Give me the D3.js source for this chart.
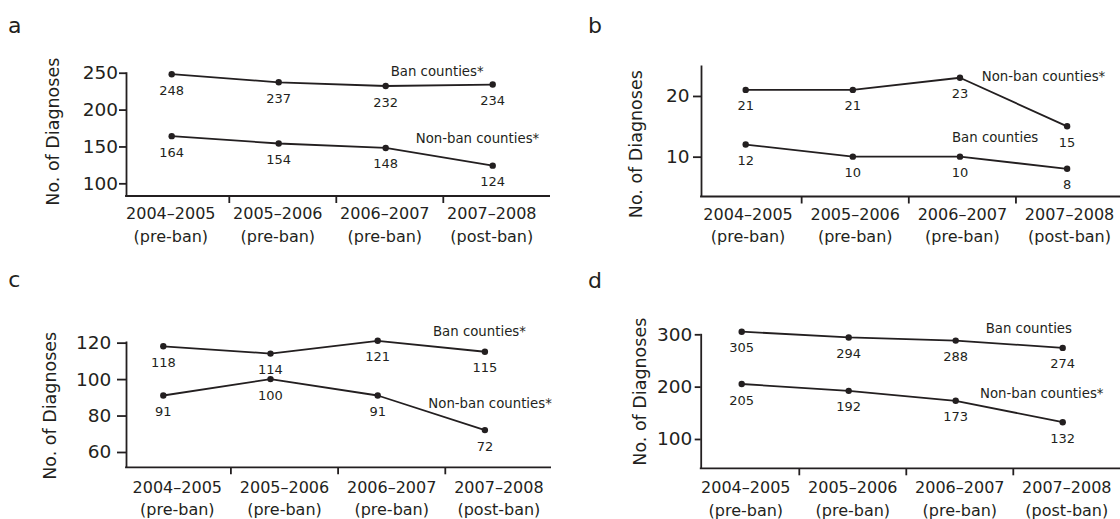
<!DOCTYPE html>
<html>
<head>
<meta charset="utf-8">
<script src="https://cdn.jsdelivr.net/npm/d3@7"></script>
<style>
  html, body { margin: 0; padding: 0; background: #ffffff; }
  svg { display: block; }
  text { font-family: "DejaVu Sans", sans-serif; fill: #231f20; }
</style>
</head>
<body>
<svg id="chart" width="1120" height="519"></svg>
<script>
// ---------------- DATA ----------------
const categories = ["2004\u20132005", "2005\u20132006", "2006\u20132007", "2007\u20132008"];
const periods = ["(pre-ban)", "(pre-ban)", "(pre-ban)", "(post-ban)"];
const panelIds = ["a", "b", "c", "d"];

const banA = [248, 237, 232, 234];
const nonBanA = [164, 154, 148, 124];
const banB = [12, 10, 10, 8];
const nonBanB = [21, 21, 23, 15];
const banC = [118, 114, 121, 115];
const nonBanC = [91, 100, 91, 72];
const banD = [305, 294, 288, 274];
const nonBanD = [205, 192, 173, 132];

const yTicksA = [100, 150, 200, 250];
const yTicksB = [10, 20];
const yTicksC = [60, 80, 100, 120];
const yTicksD = [100, 200, 300];

const banNames = ["Ban counties*", "Ban counties", "Ban counties*", "Ban counties"];
const nonBanNames = ["Non-ban counties*", "Non-ban counties*", "Non-ban counties*", "Non-ban counties*"];
const yTitle = "No. of Diagnoses";

// ---------------- LAYOUT ----------------
const layout = {
  a: { axisX: 126, top: 71.7, bottom: 196, right: 550, bandStart: 122.3, bw: 107, ptOff: -4.1,
       yDom: [82.8, 251.4], tickSize: 7, tickPad: 1, letter: [8, 33], title: [59, 131.7],
       xLab: 23, labShift: -5, banLab: [390.7, 76], nonLab: [415.7, 142.7] },
  b: { axisX: 701, top: 65, bottom: 196.5, right: 1120, bandStart: 694.5, bw: 107.15, ptOff: -2.4,
       yDom: [3.44, 25.1], tickSize: 8, tickPad: 3.5, letter: [588, 33.3], title: [642, 144.2],
       xLab: 23, labShift: 0, banLab: [952, 142.3], nonLab: [981.7, 80.7] },
  c: { axisX: 126, top: 341, bottom: 467.3, right: 551, bandStart: 123.7, bw: 107.2, ptOff: -14,
       yDom: [51.6, 120.9], tickSize: 9, tickPad: 5.7, letter: [8.3, 286.7], title: [56, 405.8],
       xLab: 25.4, labShift: 0, banLab: [433, 336], nonLab: [428.3, 408.3] },
  d: { axisX: 700.7, top: 333.3, bottom: 468.3, right: 1120, bandStart: 692.3, bw: 107, ptOff: -4.1,
       yDom: [44, 301.9], tickSize: 6, tickPad: 2.4, letter: [588, 288], title: [646, 391.7],
       xLab: 25, labShift: 0, banLab: [985.7, 333.3], nonLab: [980, 398.3] }
};

const panelData = {
  a: { ban: banA, non: nonBanA, ticks: yTicksA },
  b: { ban: banB, non: nonBanB, ticks: yTicksB },
  c: { ban: banC, non: nonBanC, ticks: yTicksC },
  d: { ban: banD, non: nonBanD, ticks: yTicksD }
};

const ink = "#231f20";
const svg = d3.select("#chart");

panelIds.forEach((id, pi) => {
  const L = layout[id];
  const D = panelData[id];
  const g = svg.append("g").attr("class", "panel-" + id);

  const x = d3.scaleBand().domain(categories)
    .range([L.bandStart, L.bandStart + L.bw * categories.length]).padding(0);
  const y = d3.scaleLinear().domain(L.yDom).range([L.bottom, L.top]);
  const px = c => x(c) + x.bandwidth() / 2 + L.ptOff;

  // panel letter
  g.append("text").attr("x", L.letter[0]).attr("y", L.letter[1])
    .attr("font-size", 22).text(id);

  // y title
  g.append("text")
    .attr("transform", `translate(${L.title[0]},${L.title[1]}) rotate(-90)`)
    .attr("text-anchor", "middle").attr("font-size", 17.5).text(yTitle);

  // y axis
  const yAxis = d3.axisLeft(y).tickValues(D.ticks).tickSize(L.tickSize)
    .tickSizeOuter(0).tickPadding(L.tickPad).tickFormat(d3.format("d"));
  const ya = g.append("g").attr("transform", `translate(${L.axisX},0)`).call(yAxis);
  ya.select(".domain").attr("stroke", ink).attr("stroke-width", 1.8);
  ya.selectAll(".tick line").attr("stroke", ink).attr("stroke-width", 1.8);
  ya.selectAll(".tick text").attr("font-size", 18.5).attr("fill", ink)
    .attr("font-family", "DejaVu Sans");

  // x axis line
  g.append("line").attr("x1", L.axisX - 0.9).attr("x2", L.right)
    .attr("y1", L.bottom).attr("y2", L.bottom)
    .attr("stroke", ink).attr("stroke-width", 1.8);

  // x ticks at band boundaries
  g.selectAll("line.xt").data(categories.slice(1)).enter().append("line")
    .attr("class", "xt")
    .attr("x1", c => x(c)).attr("x2", c => x(c))
    .attr("y1", L.bottom).attr("y2", L.bottom + 7)
    .attr("stroke", ink).attr("stroke-width", 1.8);

  // x tick labels (two lines)
  const xl = g.selectAll("text.xl").data(categories).enter().append("text")
    .attr("class", "xl").attr("text-anchor", "middle").attr("font-size", 16)
    .attr("x", c => x(c) + x.bandwidth() / 2 + L.labShift)
    .attr("y", L.bottom + L.xLab);
  xl.append("tspan").text(c => c);
  xl.append("tspan").attr("x", c => x(c) + x.bandwidth() / 2 + L.labShift)
    .attr("dy", 22.5).text((c, i) => periods[i]);

  // series
  const line = d3.line().x((v, i) => px(categories[i])).y(v => y(v));
  [D.ban, D.non].forEach(vals => {
    g.append("path").datum(vals).attr("d", line)
      .attr("fill", "none").attr("stroke", ink).attr("stroke-width", 1.8)
      .attr("stroke-linejoin", "round");
    g.selectAll(null).data(vals).enter().append("circle")
      .attr("cx", (v, i) => px(categories[i])).attr("cy", v => y(v))
      .attr("r", 3.2).attr("fill", ink);
    g.selectAll(null).data(vals).enter().append("text")
      .attr("text-anchor", "middle").attr("font-size", 13)
      .attr("x", (v, i) => px(categories[i])).attr("y", v => y(v) + 20.5)
      .text(v => v);
  });

  // series labels
  g.append("text").attr("x", L.banLab[0]).attr("y", L.banLab[1])
    .attr("font-size", 13.3).text(banNames[pi]);
  g.append("text").attr("x", L.nonLab[0]).attr("y", L.nonLab[1])
    .attr("font-size", 13.3).text(nonBanNames[pi]);
});
</script>
</body>
</html>
